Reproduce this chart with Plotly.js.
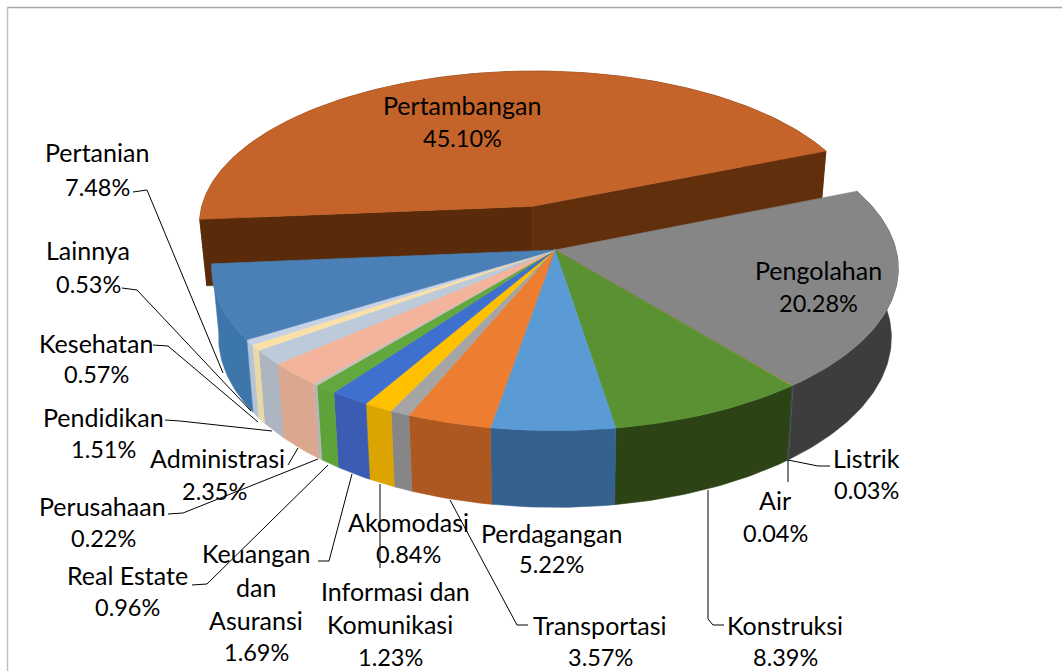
<!DOCTYPE html>
<html><head><meta charset="utf-8">
<script src="https://cdn.plot.ly/plotly-3.0.1.min.js"></script>
<style>html,body{margin:0;padding:0;background:#fff;overflow:hidden}</style>
</head><body><div id="chart" style="width:1062px;height:671px"></div>
<script>
// ---- data (clockwise, beginning with the exploded slice) ----
const categories = ['Pertambangan','Pengolahan','Listrik','Air','Konstruksi','Perdagangan','Transportasi','Akomodasi','Informasi dan Komunikasi','Keuangan dan Asuransi','Real Estate','Perusahaan','Administrasi','Pendidikan','Kesehatan','Lainnya','Pertanian'];
const values = [45.10,20.28,0.03,0.04,8.39,5.22,3.57,0.84,1.23,1.69,0.96,0.22,2.35,1.51,0.57,0.53,7.48];
const topColors = ['#c4642a','#868686','#5b7fa8','#c77b3c','#5a9233','#5b9bd5','#ed7d31','#a5a5a5','#ffc000','#3f6fcf','#62a83f','#c9c0bc','#f3b49b','#bccad9','#fbe0a8','#c5d2e6','#4a80b6'];
const wallColors = ['#5a2b0a','#3d3d3d','#3f5a76','#4a4a4a','#2c4316','#34618e','#ac5820','#868686','#dba400','#3a5cb2','#5da33a','#b9b4b2','#dba78f','#adb5c0','#e9d9a6','#b5c3d6','#3d76aa'];
// label text lines [text, centre x, centre y]
const labelLines = [
 ['Pertambangan',462,105],['45.10%',462,138],
 ['Pengolahan',818,270],['20.28%',818,303],
 ['Listrik',866,458],['0.03%',866,490],
 ['Air',775,500],['0.04%',775,533],
 ['Konstruksi',785,625],['8.39%',785,657],
 ['Perdagangan',551,533],['5.22%',551,564],
 ['Transportasi',600,625],['3.57%',600,657],
 ['Akomodasi',408,522],['0.84%',408,554],
 ['Informasi dan',395,591],['Komunikasi',390,624],['1.23%',390,657],
 ['Keuangan',256,553],['dan',256,587],['Asuransi',256,620],['1.69%',256,652],
 ['Real Estate',127,575],['0.96%',127,607],
 ['Perusahaan',102,506],['0.22%',103,538],
 ['Administrasi',217,458],['2.35%',214,491],
 ['Pendidikan',103,417],['1.51%',103,449],
 ['Kesehatan',96,343],['0.57%',96,374],
 ['Lainnya',88,250],['0.53%',88,284],
 ['Pertanian',97,152],['7.48%',97,187]
];
// leader paths
const leaders = [
 'M133,192 L147,190 L223,373','M122,288 L137,290 L251,411','M153,345 L168,346 L258,422',
 'M165,420 L180,421 L272,431','M288,465 L298,448','M168,514 L183,513 L318,459',
 'M192,585 L207,584 L328,465','M318,561 L329,561 L352,474','M380,484 L380,568',
 'M450,500 L517,625 L528,625','M708,490 L708,619 L713,625 L724,625','M788,460 L788,482',
 'M788,460 L818,466 L830,466'
];
// ---- pie geometry ----
const cx=555, cy=250, A=341, B=160, K=0.114, H=68, CONV=0.02, START=-94.9, EXPLODE=0.29;
const rad=d=>d*Math.PI/180;
function project(wx,wy){const s=1/(1-K*wy);return [cx+A*wx*s, cy+B*wy*s, s];}
function below(p){return [cx+(p[0]-cx)*(1-CONV), p[1]+H*p[2]];}
function arc(ox,oy,a0,a1){
  const n=Math.max(2,Math.ceil(Math.abs(a1-a0)));const pts=[];
  for(let i=0;i<=n;i++){const t=rad(a0+(a1-a0)*i/n);pts.push(project(ox+Math.sin(t),oy-Math.cos(t)));}
  return pts;
}
function poly(pts,fill,name){
  const xs=pts.map(p=>p[0]).concat(pts[0][0]), ys=pts.map(p=>p[1]).concat(pts[0][1]);
  return {type:'scatter',mode:'lines',x:xs,y:ys,fill:'toself',fillcolor:fill,line:{color:fill,width:0.6},hoverinfo:'skip',showlegend:false,name:name};
}
const total=values.reduce((a,b)=>a+b,0);
let ang=START; const slices=categories.map((c,i)=>{const a0=ang;ang+=values[i]/total*360;return {c,i,a0,a1:ang};});
const traces=[];
// exploded slice first (it lies behind the others)
{
  const s=slices[0], mid=rad((s.a0+s.a1)/2), ox=EXPLODE*Math.sin(mid), oy=-EXPLODE*Math.cos(mid);
  const ap=project(ox,oy), rim=arc(ox,oy,s.a0,s.a1);
  const bAp=below(ap), f=rim[0], l=rim[rim.length-1];
  traces.push(poly(rim.concat(rim.slice().reverse().map(below)),wallColors[0],s.c));
  traces.push(poly([ap,f,below(f),bAp],wallColors[0],s.c));
  traces.push(poly([ap,l,below(l),bAp],'#622f0c',s.c));
  traces.push(poly([ap].concat(rim),topColors[0],s.c));
}
slices.slice(1).forEach(s=>{
  const rim=arc(0,0,s.a0,s.a1);
  traces.push(poly(rim.concat(rim.slice().reverse().map(below)),wallColors[s.i],s.c));
});
slices.slice(1).forEach(s=>{
  const rim=arc(0,0,s.a0,s.a1);
  traces.push(poly([project(0,0)].concat(rim),topColors[s.i],s.c));
});
const FONT='Lato, "Open Sans", sans-serif';
const annotations=labelLines.map(l=>({text:l[0],x:l[1],y:l[2],xref:'x',yref:'y',showarrow:false,xanchor:'center',yanchor:'middle',font:{family:FONT,size:/%$/.test(l[0])?23.5:25,color:'#000'}}));
const shapes=leaders.map(p=>({type:'path',path:p,xref:'x',yref:'y',line:{color:'#000',width:1}}));
shapes.push({type:'line',xref:'x',yref:'y',x0:7,x1:1062,y0:7.5,y1:7.5,line:{color:'#a8a8a8',width:1.5}});
shapes.push({type:'line',xref:'x',yref:'y',x0:7.5,x1:7.5,y0:7,y1:671,line:{color:'#c0c0c0',width:1.5}});
Plotly.newPlot('chart',traces,{
  width:1062,height:671,margin:{l:0,r:0,t:0,b:0},paper_bgcolor:'#fff',plot_bgcolor:'#fff',showlegend:false,
  xaxis:{range:[0,1062],visible:false,fixedrange:true},
  yaxis:{range:[671,0],visible:false,fixedrange:true},
  annotations,shapes
},{displayModeBar:false,staticPlot:true});
</script></body></html>
